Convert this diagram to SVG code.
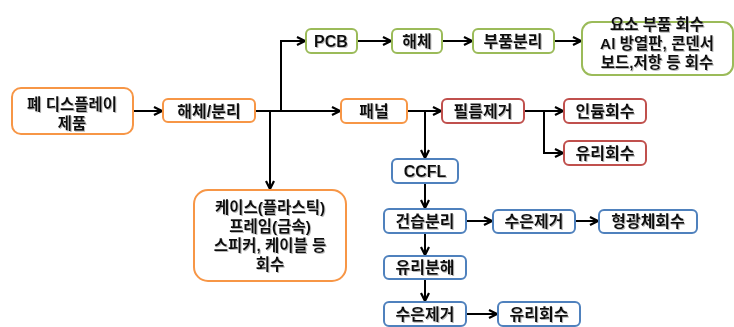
<svg xmlns="http://www.w3.org/2000/svg" width="734" height="327" viewBox="0 0 734 327">
<defs>
<marker id="arr" viewBox="0 0 10 10" refX="9" refY="5" markerWidth="10" markerHeight="10" markerUnits="userSpaceOnUse" orient="auto">
<path d="M1,1 L9,5 L1,9" fill="none" stroke="#000" stroke-width="2.2"/>
</marker>
<filter id="sh" x="-10%" y="-10%" width="120%" height="130%">
<feDropShadow dx="1" dy="1" stdDeviation="0.6" flood-color="#888" flood-opacity="0.6"/>
</filter>
</defs>
<style>
rect{fill:#fff;stroke-width:2}
.o{stroke:#F79646}
.g{stroke:#9BBB59}
.r{stroke:#C0504D}
.b{stroke:#4F81BD}
text{font-family:"Liberation Sans","Noto Sans CJK KR",sans-serif;font-weight:bold;font-size:16px;fill:#111;text-anchor:middle;filter:url(#sh)}
.m{font-size:15.5px}
.c line,.c path{stroke:#000;stroke-width:2;fill:none}
</style>
<rect width="734" height="327" style="fill:#fff;stroke:none"/>
<g class="c">
<line x1="133" y1="111" x2="162" y2="111" marker-end="url(#arr)"/>
<line x1="255" y1="111" x2="340" y2="111" marker-end="url(#arr)"/>
<path d="M281,111 V41 H305" marker-end="url(#arr)"/>
<line x1="270" y1="111" x2="270" y2="189" marker-end="url(#arr)"/>
<line x1="357" y1="41" x2="391" y2="41" marker-end="url(#arr)"/>
<line x1="442" y1="41" x2="472" y2="41" marker-end="url(#arr)"/>
<line x1="554" y1="41" x2="581" y2="41" marker-end="url(#arr)"/>
<line x1="407" y1="111" x2="441" y2="111" marker-end="url(#arr)"/>
<line x1="425" y1="111" x2="425" y2="158" marker-end="url(#arr)"/>
<line x1="524" y1="111" x2="563" y2="111" marker-end="url(#arr)"/>
<path d="M544,111 V153 H563" marker-end="url(#arr)"/>
<line x1="425" y1="183" x2="425" y2="208" marker-end="url(#arr)"/>
<line x1="425" y1="233" x2="425" y2="255" marker-end="url(#arr)"/>
<line x1="425" y1="279" x2="425" y2="301" marker-end="url(#arr)"/>
<line x1="466" y1="221" x2="492" y2="221" marker-end="url(#arr)"/>
<line x1="575" y1="221" x2="598" y2="221" marker-end="url(#arr)"/>
<line x1="466" y1="314" x2="497" y2="314" marker-end="url(#arr)"/>
</g>
<g id="n1"><rect class="o" x="12" y="88" width="121" height="46" rx="9"/><text class="m" x="72" y="110"><tspan x="72">폐 디스플레이</tspan><tspan x="72" dy="19">제품</tspan></text></g>
<g id="n2"><rect class="o" x="163" y="99" width="92" height="23" rx="5"/><text x="209" y="117">해체/분리</text></g>
<g id="n3"><rect class="g" x="306" y="29" width="51" height="24" rx="5"/><text x="331" y="47">PCB</text></g>
<g id="n4"><rect class="g" x="392" y="29" width="50" height="24" rx="5"/><text x="417" y="47">해체</text></g>
<g id="n5"><rect class="g" x="473" y="29" width="81" height="24" rx="5"/><text x="513" y="47">부품분리</text></g>
<g id="n6"><rect class="g" x="582" y="22" width="151" height="53" rx="10"/><text class="m" x="657" y="30"><tspan x="657">요소 부품 회수</tspan><tspan x="657" dy="19">Al 방열판, 콘덴서</tspan><tspan x="657" dy="19">보드,저항 등 회수</tspan></text></g>
<g id="n7"><rect class="o" x="341" y="99" width="66" height="24" rx="5"/><text x="374" y="117">패널</text></g>
<g id="n8"><rect class="r" x="442" y="99" width="82" height="24" rx="5"/><text x="483" y="117">필름제거</text></g>
<g id="n9"><rect class="r" x="564" y="99" width="82" height="24" rx="5"/><text x="605" y="117">인듐회수</text></g>
<g id="n10"><rect class="r" x="564" y="141" width="82" height="24" rx="5"/><text x="605" y="159">유리회수</text></g>
<g id="n11"><rect class="o" x="194" y="190" width="152" height="91" rx="14"/><text class="m" x="270" y="213"><tspan x="270">케이스(플라스틱)</tspan><tspan x="270" dy="19">프레임(금속)</tspan><tspan x="270" dy="19">스피커, 케이블 등</tspan><tspan x="270" dy="19">회수</tspan></text></g>
<g id="n12"><rect class="b" x="392" y="159" width="66" height="24" rx="5"/><text x="425" y="177">CCFL</text></g>
<g id="n13"><rect class="b" x="384" y="209" width="82" height="24" rx="5"/><text x="425" y="227">건습분리</text></g>
<g id="n14"><rect class="b" x="384" y="256" width="82" height="23" rx="5"/><text x="425" y="273">유리분해</text></g>
<g id="n15"><rect class="b" x="384" y="302" width="82" height="24" rx="5"/><text x="425" y="320">수은제거</text></g>
<g id="n16"><rect class="b" x="493" y="210" width="82" height="23" rx="5"/><text x="534" y="227">수은제거</text></g>
<g id="n17"><rect class="b" x="599" y="210" width="98" height="23" rx="5"/><text x="648" y="227">형광체회수</text></g>
<g id="n18"><rect class="b" x="498" y="302" width="82" height="24" rx="5"/><text x="539" y="320">유리회수</text></g>
</svg>
